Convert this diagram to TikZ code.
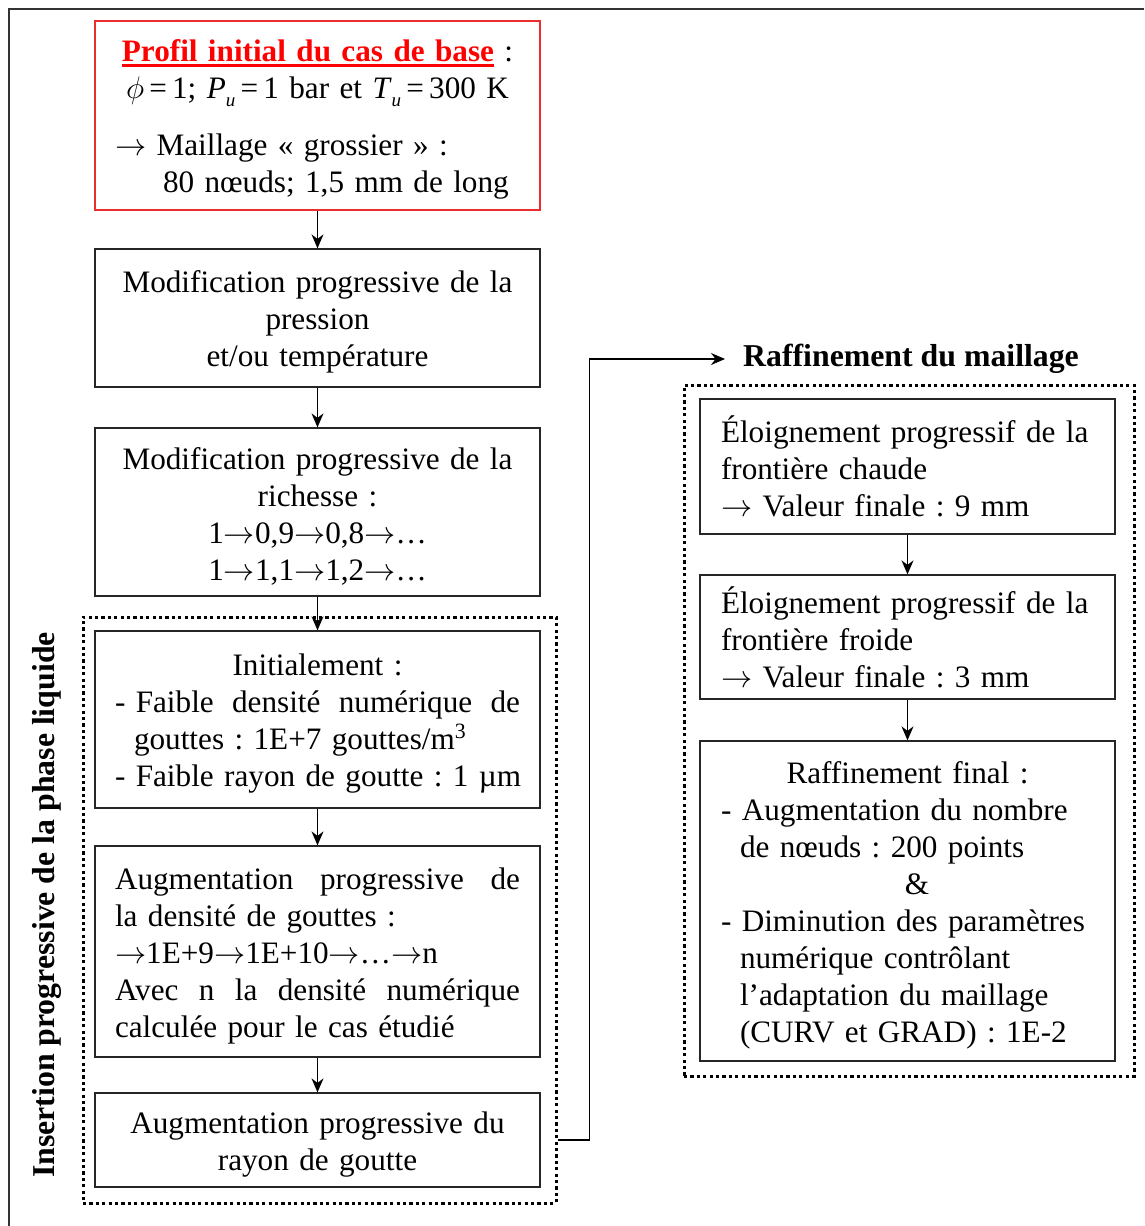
\RequirePackage{fix-cm}
\documentclass[tikz,border=0pt]{standalone}
\usepackage{fontspec}
\setmainfont{Liberation Serif}
\usetikzlibrary{arrows.meta,calc}
\newcommand\fs{\fontsize{31.2}{37}\selectfont\frenchspacing\lineskiplimit=-100pt\relax}
\newcommand\fsb{\fontsize{31.8}{37}\selectfont\bfseries}
\newcommand\sbu{\raisebox{-8pt}{\fontsize{19}{19}\selectfont\itshape u}}
\newcommand\ar{\ensuremath{\rightarrow}}
\newcommand\tp{\rule{0pt}{30pt}}
\newcommand\redul[1]{\setbox0\hbox{#1}\rlap{\rule[-5pt]{\wd0}{2.6pt}}\box0}
\definecolor{boxred}{RGB}{235,45,45}
\tikzset{
  box/.style={draw=black!85, line width=1.3pt, inner xsep=20pt, inner ysep=0pt,
    text width=405pt, minimum width=445pt, font=\fs},
  rbox/.style={box, inner xsep=21pt, text width=373pt, minimum width=415pt},
  dotbox/.style={draw=black, line width=3pt, dash pattern=on 3.2pt off 3.2pt, inner sep=0pt},
  arr/.style={draw=black, line width=1.4pt, -{Stealth[length=14pt,width=12pt]}},
}
\begin{document}
\begin{tikzpicture}[x=1pt,y=-1pt]
\useasboundingbox (0,0) rectangle (1144,1226);
% outer frame (cropped)
\draw[line width=1.6pt, black!80] (9,1226) -- (9,9) -- (1144,9);

% group frames
\node[dotbox, minimum width=473pt, minimum height=586pt] (grpL) at (319.5,910) {};
\node[dotbox, minimum width=450pt, minimum height=691pt] (grpR) at (909,730.5) {};

% left column
\node[box, draw=boxred, minimum height=189pt] (b1) at (317.5,115.5) {%
{\centering\tp\textcolor{red}{\bfseries\redul{Profil initial du cas de base}} :\\
$\phi$\,=\,1; \textit{P}\sbu\,=\,1 bar et \textit{T}\sbu\,=\,300 K\par}
\vspace{20pt}
\mbox{\ar\ Maillage « grossier » :}\par
\hspace*{48pt}\mbox{80 nœuds; 1,5 mm de long}};

\node[box, minimum height=138pt] (b2) at (317.5,318) {%
{\centering\tp Modification progressive de la\\ pression\\ et/ou température\par}};

\node[box, minimum height=168pt] (b3) at (317.5,512) {%
{\centering\tp Modification progressive de la\\ richesse :\\ 1\ar0,9\ar0,8\ar…\\ 1\ar1,1\ar1,2\ar…\par}};

\node[box, minimum height=177pt] (b4) at (317.5,719.5) {%
{\centering\tp Initialement :\par}
\makebox[405pt]{-\ Faible\hfill densité\hfill numérique\hfill de}\par
\hspace*{19pt}\mbox{gouttes : 1E+7 gouttes/m\textsuperscript{3}}\par
\mbox{- Faible rayon de goutte : 1 µm}};

\node[box, minimum height=211pt] (b5) at (317.5,951.5) {%
\tp\makebox[405pt]{Augmentation\hfill progressive\hfill de}\par
\mbox{la densité de gouttes :}\par
\mbox{\ar1E+9\ar1E+10\ar…\ar n}\par
\makebox[405pt]{Avec\hfill n\hfill la\hfill densité\hfill numérique}\par
\mbox{calculée pour le cas étudié}};

\node[box, minimum height=94pt] (b6) at (317.5,1140) {%
{\centering\tp Augmentation progressive du\\ rayon de goutte\par}};

% right column
\node[rbox, minimum height=135pt] (r1) at (907.5,466.5) {%
\mbox{Éloignement progressif de la}\par
\mbox{frontière chaude}\par
\mbox{\ar\ Valeur finale : 9 mm}};

\node[rbox, minimum height=124pt] (r2) at (907.5,637) {%
\mbox{Éloignement progressif de la}\par
\mbox{frontière froide}\par
\mbox{\ar\ Valeur finale : 3 mm}};

\node[rbox, minimum height=320pt] (r3) at (907.5,901) {%
{\centering\tp Raffinement final :\par}
\mbox{- Augmentation du nombre}\par
\hspace*{19pt}\mbox{de nœuds : 200 points}\par
{\centering\hspace*{19pt}\&\par}
\mbox{- Diminution des paramètres}\par
\hspace*{19pt}\mbox{numérique contrôlant}\par
\hspace*{19pt}\mbox{l’adaptation du maillage}\par
\hspace*{19pt}\mbox{(CURV et GRAD) : 1E-2}};

% titles
\node[font=\fsb, inner sep=0pt, anchor=west] (title) at (743,359) {Raffinement du maillage};
\node[font=\fsb, rotate=90, inner sep=0pt] (lbl) at (47,905) {Insertion progressive de la phase liquide};

% connectors
\draw[arr] (b1) -- (b2);
\draw[arr] (b2) -- (b3);
\draw[arr] (b3) -- (b4);
\draw[arr] (b4) -- (b5);
\draw[arr] (b5) -- (b6);
\draw[arr] (r1) -- (r2);
\draw[arr] (r2) -- (r3);
\draw[arr] (grpL.east |- b6.east) -- ++(32,0) |- ([xshift=-18pt]title.west);
\end{tikzpicture}
\end{document}
